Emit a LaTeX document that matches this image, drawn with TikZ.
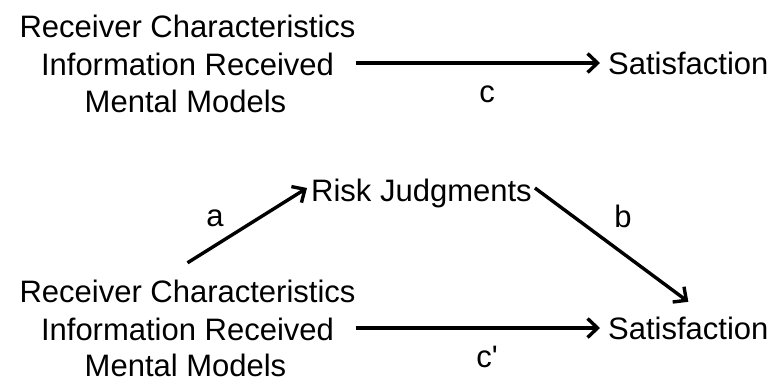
\documentclass[tikz,border=0pt]{standalone}
\usepackage{fontspec}
\setmainfont{Liberation Sans}
\newfontfamily\plainquote{Liberation Sans}[Ligatures=TeXOff]
\usetikzlibrary{arrows.meta}
\begin{document}
\begin{tikzpicture}[x=1pt,y=-1pt,
  lbl/.style={inner sep=0pt, text height=22pt, text depth=0pt, font=\fontsize{31}{37}\selectfont},
  arr/.style={line width=3.4pt, -{Straight Barb[length=10pt,width=19pt,line width=3.4pt]}}]
\useasboundingbox (0,0) rectangle (775,381);
% top
\node[lbl, anchor=base] (t1) at (187.5,37) {Receiver Characteristics};
\node[lbl, anchor=base] (t2) at (187.5,75) {Information Received};
\node[lbl, anchor=base] (t3) at (185.5,112) {Mental Models};
\node[lbl, anchor=base west] (s1) at (608,74) {Satisfaction};
\node[lbl, anchor=base] (c) at (487,102) {c};
\draw[arr, shorten >=8pt] (t1.east |- s1.west) -- (s1.west);
% bottom
\node[lbl, anchor=base] (b1) at (187.5,302) {Receiver Characteristics};
\node[lbl, anchor=base] (b2) at (187.5,340) {Information Received};
\node[lbl, anchor=base] (b3) at (185.5,376.5) {Mental Models};
\node[lbl, anchor=base west] (s2) at (608,339) {Satisfaction};
\node[lbl, anchor=base] (cp) at (487,367) {\plainquote c'};
\node[lbl, anchor=base west] (r) at (311,201) {Risk Judgments};
\node[lbl, anchor=base] (a) at (215,226) {a};
\node[lbl, anchor=base] (b) at (623,227) {b};
\draw[arr, shorten >=8pt] (b1.east |- s2.west) -- (s2.west);
\draw[arr] ([yshift=17pt]b1.north) -- ([shift={(-4pt,2pt)}]r.west);
\draw[arr] ([shift={(3pt,2pt)}]r.east) -- ([yshift=15pt]s2.north);
\end{tikzpicture}
\end{document}
